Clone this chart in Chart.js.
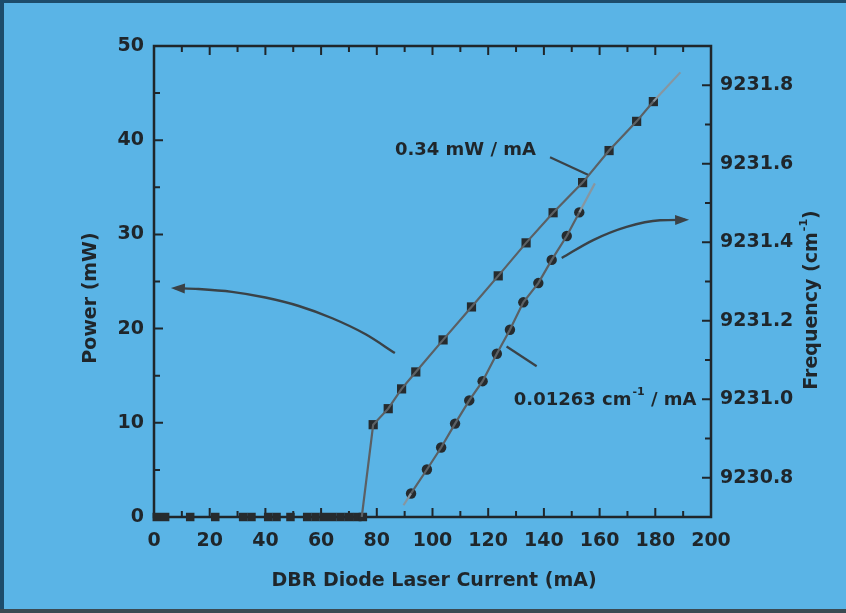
<!DOCTYPE html>
<html lang="en">
<head>
<meta charset="UTF-8">
<title>DBR diode laser: power and frequency vs current</title>
<script src="https://cdn.jsdelivr.net/npm/chart.js"></script>
<style>
  html, body { margin: 0; padding: 0; background: #5ab4e6; }
  #wrap { width: 846px; height: 613px; position: relative; }
</style>
</head>
<body>
<div id="wrap"><canvas id="chart" width="846" height="613"></canvas></div>
<script>
// below threshold: no output power
const offCurrent = [1, 4, 13, 22, 32, 35, 41, 44, 49, 55, 58, 61, 64, 67, 70, 73, 75];
const offPower   = [0, 0, 0, 0, 0, 0, 0, 0, 0, 0, 0, 0, 0, 0, 0, 0, 0];

// power above threshold (squares, left axis)
const powerCurrent = [78.7, 84.1, 88.9, 94.0, 103.8, 114.0, 123.6, 133.6, 143.3, 153.9, 163.4, 173.3, 179.3];
const powerValues  = [9.8, 11.5, 13.6, 15.4, 18.8, 22.3, 25.6, 29.1, 32.3, 35.5, 38.9, 42.0, 44.1];

// fitted power curve, threshold knee to the faint extension
const powerFitCurrent = [74.6, 78.7, 84.1, 88.9, 94.0, 103.8, 114.0, 123.6, 133.6, 143.3, 153.9, 163.4, 173.3, 179.3, 189];
const powerFitValues  = [0, 9.8, 11.5, 13.6, 15.4, 18.8, 22.3, 25.6, 29.1, 32.3, 35.5, 38.9, 42.0, 44.1, 47.2];

// frequency (circles, right axis, cm-1)
const freqCurrent = [92.3, 98.0, 103.1, 108.1, 113.2, 118.0, 123.1, 127.8, 132.6, 138.0, 142.8, 148.2, 152.7];
const freqValues  = [9230.760, 9230.821, 9230.877, 9230.938, 9230.997, 9231.046, 9231.116, 9231.177, 9231.247, 9231.296, 9231.355, 9231.416, 9231.476];

const freqFitCurrent = [89.6, 92.3, 98.0, 103.1, 108.1, 113.2, 118.0, 123.1, 127.8, 132.6, 138.0, 142.8, 148.2, 152.7, 158.3];
const freqFitValues  = [9230.73, 9230.760, 9230.821, 9230.877, 9230.938, 9230.997, 9231.046, 9231.116, 9231.177, 9231.247, 9231.296, 9231.355, 9231.416, 9231.476, 9231.55];

// arrows pointing to each axis (in mA / mW)
const leftArrowX  = [86.5, 76, 64, 52, 40, 28, 16, 7.5];
const leftArrowY  = [17.4, 19.4, 21.1, 22.4, 23.3, 23.9, 24.2, 24.3];
const rightArrowX = [146.4, 157.7, 169.7, 181.7, 190.7];
const rightArrowY = [27.5, 29.4, 30.8, 31.5, 31.55];

// short leader strokes under the slope labels
const powerLeaderX = [142.2, 156.0];
const powerLeaderY = [38.2, 36.3];
const freqLeaderX  = [126.6, 137.4];
const freqLeaderY  = [18.1, 16.0];

// tick labels
const currentTicks = [0, 20, 40, 60, 80, 100, 120, 140, 160, 180, 200];
const powerTicks   = [0, 10, 20, 30, 40, 50];
const freqTicks    = [9230.8, 9231.0, 9231.2, 9231.4, 9231.6, 9231.8];

const FONT = "'DejaVu Sans', sans-serif";
const INK = '#1f262b';
const LINE = '#5b6064';
const FAINT = '#8796a0';
const ARROW = '#3a4247';

function pts(xs, ys) { return xs.map((x, i) => ({ x: x, y: ys[i] })); }
function mids(arr) { const m = []; for (let i = 0; i < arr.length - 1; i++) m.push((arr[i] + arr[i + 1]) / 2); return m; }

const decorPlugin = {
  id: 'decor',
  beforeDraw(chart) {
    const ctx = chart.ctx;
    ctx.save();
    ctx.fillStyle = '#5ab4e6';
    ctx.fillRect(0, 0, chart.width, chart.height);
    // scan edges
    ctx.fillStyle = '#1d4c6b';
    ctx.fillRect(0, 0, 4, chart.height);
    ctx.fillRect(0, 0, chart.width, 3);
    ctx.fillStyle = '#3b4a52';
    ctx.fillRect(0, 609, chart.width, 4);
    ctx.restore();
  },
  beforeDatasetsDraw(chart) {
    const ctx = chart.ctx;
    const a = chart.chartArea;
    const x = chart.scales.x, y = chart.scales.y, y2 = chart.scales.y2;
    ctx.save();
    ctx.strokeStyle = INK;
    ctx.lineWidth = 2.5;
    ctx.strokeRect(a.left, a.top, a.right - a.left, a.bottom - a.top);
    ctx.lineWidth = 2;
    ctx.beginPath();
    // current: bottom and top, inward
    currentTicks.forEach(v => { const px = x.getPixelForValue(v); ctx.moveTo(px, a.bottom); ctx.lineTo(px, a.bottom - 9); ctx.moveTo(px, a.top); ctx.lineTo(px, a.top + 9); });
    mids(currentTicks).forEach(v => { const px = x.getPixelForValue(v); ctx.moveTo(px, a.bottom); ctx.lineTo(px, a.bottom - 6); ctx.moveTo(px, a.top); ctx.lineTo(px, a.top + 6); });
    // power: left, inward
    powerTicks.forEach(v => { const py = y.getPixelForValue(v); ctx.moveTo(a.left, py); ctx.lineTo(a.left + 9, py); });
    mids(powerTicks).forEach(v => { const py = y.getPixelForValue(v); ctx.moveTo(a.left, py); ctx.lineTo(a.left + 6, py); });
    // frequency: right, inward
    freqTicks.forEach(v => { const py = y2.getPixelForValue(v); ctx.moveTo(a.right, py); ctx.lineTo(a.right - 9, py); });
    mids(freqTicks).forEach(v => { const py = y2.getPixelForValue(v); ctx.moveTo(a.right, py); ctx.lineTo(a.right - 6, py); });
    ctx.stroke();
    ctx.restore();
  },
  afterDatasetsDraw(chart) {
    const ctx = chart.ctx;
    const x = chart.scales.x, y = chart.scales.y;
    ctx.save();
    // arrowheads at the end of each curved arrow
    [3, 4].forEach(idx => {
      const d = chart.getDatasetMeta(idx).data;
      const p1 = d[d.length - 2], p2 = d[d.length - 1];
      const ang = Math.atan2(p2.y - p1.y, p2.x - p1.x);
      ctx.fillStyle = ARROW;
      ctx.beginPath();
      ctx.moveTo(p2.x + 4 * Math.cos(ang), p2.y + 4 * Math.sin(ang));
      ctx.lineTo(p2.x - 10 * Math.cos(ang) - 5 * Math.sin(ang), p2.y - 10 * Math.sin(ang) + 5 * Math.cos(ang));
      ctx.lineTo(p2.x - 10 * Math.cos(ang) + 5 * Math.sin(ang), p2.y - 10 * Math.sin(ang) - 5 * Math.cos(ang));
      ctx.closePath();
      ctx.fill();
    });

    ctx.fillStyle = INK;
    ctx.textBaseline = 'middle';
    ctx.font = 'bold 18px ' + FONT;
    // slope labels
    ctx.textAlign = 'left';
    ctx.fillText('0.34 mW / mA', x.getPixelForValue(86.5), y.getPixelForValue(38.9));
    let tx = x.getPixelForValue(129.2);
    const ty = y.getPixelForValue(12.4);
    ctx.fillText('0.01263 cm', tx, ty);
    tx += ctx.measureText('0.01263 cm').width;
    ctx.font = 'bold 11px ' + FONT;
    ctx.fillText('-1', tx + 1, ty - 8);
    tx += ctx.measureText('-1').width + 1;
    ctx.font = 'bold 18px ' + FONT;
    ctx.fillText(' / mA', tx, ty);

    // axis titles
    ctx.font = 'bold 19px ' + FONT;
    ctx.textAlign = 'center';
    ctx.fillText('DBR Diode Laser Current (mA)', 434, 581);

    ctx.save();
    ctx.translate(91, 298);
    ctx.rotate(-Math.PI / 2);
    ctx.fillText('Power (mW)', 0, 0);
    ctx.restore();

    ctx.save();
    ctx.translate(812, 300);
    ctx.rotate(-Math.PI / 2);
    ctx.font = 'bold 19px ' + FONT;
    const w1 = ctx.measureText('Frequency (cm').width;
    ctx.font = 'bold 11px ' + FONT;
    const w2 = ctx.measureText('-1').width + 1;
    ctx.font = 'bold 19px ' + FONT;
    const w3 = ctx.measureText(')').width;
    let sx = -(w1 + w2 + w3) / 2;
    ctx.textAlign = 'left';
    ctx.fillText('Frequency (cm', sx, 0);
    sx += w1;
    ctx.font = 'bold 11px ' + FONT;
    ctx.fillText('-1', sx + 1, -8);
    sx += w2;
    ctx.font = 'bold 19px ' + FONT;
    ctx.fillText(')', sx, 0);
    ctx.restore();

    ctx.restore();
  }
};

new Chart(document.getElementById('chart'), {
  type: 'scatter',
  data: {
    datasets: [
      { data: pts(powerFitCurrent, powerFitValues), showLine: true, borderColor: LINE, borderWidth: 2.2, pointRadius: 0, yAxisID: 'y',
        segment: { borderColor: c => (c.p1DataIndex === powerFitCurrent.length - 1 ? FAINT : LINE) } },
      { data: pts(freqFitCurrent, freqFitValues), showLine: true, borderColor: LINE, borderWidth: 2.2, pointRadius: 0, yAxisID: 'y2',
        segment: { borderColor: c => (c.p1DataIndex === freqFitCurrent.length - 1 || c.p0DataIndex === 0 ? FAINT : LINE) } },
      { data: pts(powerLeaderX, powerLeaderY), showLine: true, borderColor: ARROW, borderWidth: 2.2, pointRadius: 0, yAxisID: 'y' },
      { data: pts(leftArrowX, leftArrowY), showLine: true, borderColor: ARROW, borderWidth: 2.4, pointRadius: 0, cubicInterpolationMode: 'monotone', yAxisID: 'y' },
      { data: pts(rightArrowX, rightArrowY), showLine: true, borderColor: ARROW, borderWidth: 2.4, pointRadius: 0, cubicInterpolationMode: 'monotone', yAxisID: 'y' },
      { data: pts(freqLeaderX, freqLeaderY), showLine: true, borderColor: ARROW, borderWidth: 2.2, pointRadius: 0, yAxisID: 'y' },
      { data: pts(offCurrent, offPower), pointStyle: 'rect', pointRadius: 6, backgroundColor: '#262b2e', borderWidth: 0, yAxisID: 'y', clip: false },
      { data: pts(powerCurrent, powerValues), pointStyle: 'rect', pointRadius: 6.5, backgroundColor: '#262b2e', borderWidth: 0, yAxisID: 'y' },
      { data: pts(freqCurrent, freqValues), pointStyle: 'circle', pointRadius: 5.2, backgroundColor: '#262b2e', borderWidth: 0, yAxisID: 'y2' }
    ]
  },
  options: {
    responsive: false,
    animation: false,
    devicePixelRatio: 1,
    layout: { padding: { top: 46, left: 0, right: 0, bottom: 0 } },
    plugins: { legend: { display: false }, tooltip: { enabled: false } },
    scales: {
      x: {
        type: 'linear', position: 'bottom', min: 0, max: 200,
        grid: { display: false, drawTicks: false }, border: { display: false },
        afterBuildTicks: s => { s.ticks = currentTicks.map(v => ({ value: v })); },
        afterFit: s => { s.height = 96; },
        ticks: { padding: 13, color: INK, font: { family: FONT, size: 19, weight: 'bold' } }
      },
      y: {
        type: 'linear', position: 'left', min: 0, max: 50,
        grid: { display: false, drawTicks: false }, border: { display: false },
        afterBuildTicks: s => { s.ticks = powerTicks.map(v => ({ value: v })); },
        afterFit: s => { s.width = 154; },
        ticks: { padding: 10, color: INK, font: { family: FONT, size: 19, weight: 'bold' } }
      },
      y2: {
        type: 'linear', position: 'right', min: 9230.7, max: 9231.9,
        grid: { display: false, drawTicks: false }, border: { display: false },
        afterBuildTicks: s => { s.ticks = freqTicks.map(v => ({ value: v })); },
        afterFit: s => { s.width = 135; },
        ticks: { padding: 9, color: INK, font: { family: FONT, size: 19, weight: 'bold' }, callback: v => v.toFixed(1) }
      }
    }
  },
  plugins: [decorPlugin]
});
</script>
</body>
</html>
